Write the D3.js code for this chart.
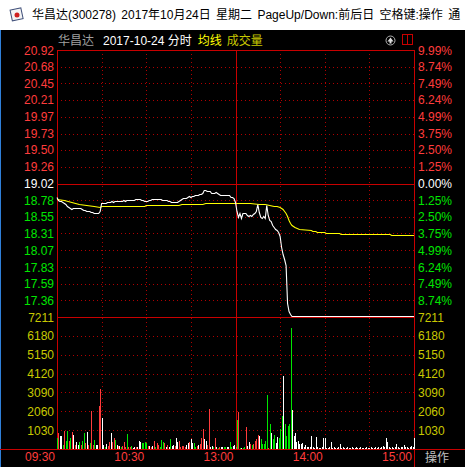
<!DOCTYPE html>
<html>
<head>
<meta charset="utf-8">
<script src="https://cdn.jsdelivr.net/npm/d3@7"></script>
<style>
body { margin: 0; background: #000; overflow: hidden; }
svg { display: block; }
text { font-family: "Liberation Sans", "Noto Sans CJK SC", sans-serif; font-size: 12px; }
</style>
</head>
<body>
<svg id="chart"></svg>
<script>
var preClose = 19.02,
	limitUp = 20.92,
	limitDown = 17.12,
	volMax = 7211;

var priceLabels = [20.92, 20.68, 20.45, 20.21, 19.97, 19.73, 19.50, 19.26, 19.02,
	18.78, 18.55, 18.31, 18.07, 17.83, 17.59, 17.36];
var pctLabels = ["9.99%", "8.74%", "7.49%", "6.24%", "4.99%", "3.75%", "2.50%", "1.25%", "0.00%",
	"1.25%", "2.50%", "3.75%", "4.99%", "6.24%", "7.49%", "8.74%"];
var volLabels = [7211, 6180, 5150, 4120, 3090, 2060, 1030];
var timeLabels = ["09:30", "10:30", "13:00", "14:00", "15:00"],
	timeLabelMin = [0, 60, 120, 180, 240],
	dottedMin = [30, 60, 90, 150, 180, 210];

// minute price 09:30 .. 14:08, then held at limit down to the close
var price = [
	18.82, 18.77, 18.76, 18.75, 18.74, 18.725, 18.71, 18.69, 18.67, 18.65,
	18.645, 18.65, 18.655, 18.655, 18.66, 18.65, 18.655, 18.645, 18.63, 18.63,
	18.62, 18.61, 18.61, 18.60, 18.595, 18.59, 18.585, 18.585, 18.59, 18.61,
	18.725, 18.73, 18.735, 18.735, 18.74, 18.74, 18.745, 18.75, 18.745, 18.75,
	18.755, 18.75, 18.76, 18.755, 18.76, 18.765, 18.76, 18.77, 18.765, 18.77,
	18.775, 18.77, 18.775, 18.785, 18.78, 18.785, 18.78, 18.775, 18.765, 18.755,
	18.75, 18.755, 18.765, 18.775, 18.78, 18.785, 18.78, 18.785, 18.78, 18.785,
	18.78, 18.775, 18.77, 18.765, 18.77, 18.76, 18.75, 18.745, 18.745, 18.74,
	18.745, 18.745, 18.76, 18.775, 18.79, 18.795, 18.80, 18.80, 18.81, 18.825,
	18.82, 18.83, 18.825, 18.84, 18.845, 18.84, 18.85, 18.86, 18.87, 18.915,
	18.91, 18.90, 18.905, 18.895, 18.87, 18.875, 18.865, 18.885, 18.875, 18.85,
	18.845, 18.845, 18.84, 18.845, 18.84, 18.845, 18.835, 18.82, 18.81, 18.80,
	18.74, 18.62, 18.53, 18.58, 18.52, 18.59, 18.58, 18.59, 18.56, 18.55,
	18.555, 18.55, 18.57, 18.59, 18.62, 18.72, 18.60, 18.53, 18.52, 18.54,
	18.52, 18.70, 18.56, 18.49, 18.47, 18.42, 18.38, 18.36, 18.34, 18.32,
	18.26, 18.10, 18.00, 17.93, 17.85, 17.30, 17.19, 17.15, 17.12
];
var closeMinute = 240, closePrice = 17.12;

var avgMin = [0, 5, 10, 15, 20, 25, 29, 30, 50, 52, 59, 60, 82, 84, 98, 100, 120, 130, 136, 140,
	143, 146, 148, 150, 152, 153, 154, 155, 156, 157, 158, 160, 163, 171, 172, 174, 175, 180, 181, 190,
	191, 217, 218, 224, 225, 240];
var avgVal = [18.79, 18.765, 18.74, 18.72, 18.70, 18.68, 18.665, 18.68, 18.685, 18.69, 18.69, 18.70, 18.70, 18.715, 18.72, 18.73, 18.735, 18.73, 18.72, 18.71,
	18.70, 18.69, 18.68, 18.665, 18.64, 18.61, 18.58, 18.55, 18.49, 18.44, 18.41, 18.38, 18.36, 18.35, 18.336, 18.336, 18.322, 18.322, 18.308, 18.308,
	18.294, 18.294, 18.28, 18.28, 18.266, 18.266];

var volume = [
	580, 855, 710, 710, 218, 1000, 437, 983, 437, 580,
	928, 764, 218, 364, 218, 400, 218, 437, 855, 310,
	928, 218, 310, 2075, 218, 491, 218, 218, 2348, 3276,
	1674, 218, 127, 270, 164, 400, 873, 382, 582, 491,
	218, 182, 164, 91, 164, 400, 127, 819, 127, 91,
	164, 73, 127, 127, 91, 437, 364, 346, 310, 382,
	310, 164, 164, 127, 164, 437, 127, 310, 218, 91,
	491, 382, 310, 91, 218, 127, 528, 164, 218, 164,
	582, 400, 437, 127, 164, 164, 127, 218, 310, 400,
	546, 346, 346, 91, 164, 218, 255, 582, 1074, 546,
	437, 218, 2184, 91, 164, 91, 582, 91, 55, 91,
	91, 127, 91, 91, 91, 91, 382, 91, 164, 218,
	127, 1583, 2020, 55, 55, 55, 127, 1201, 164, 382,
	273, 200, 273, 455, 528, 764, 710, 528, 255, 255,
	455, 2948, 73, 1365, 874, 528, 764, 346, 673, 600,
	1074, 1802, 3986, 1365, 710, 1256, 1365, 6607, 2130, 710,
	855, 400, 420, 273, 273, 310, 127, 200, 127, 127,
	127, 710, 127, 55, 637, 127, 55, 55, 127, 600,
	600, 55, 55, 91, 382, 55, 91, 55, 55, 91,
	273, 55, 91, 55, 55, 127, 55, 55, 91, 55,
	55, 91, 55, 55, 91, 55, 55, 55, 91, 55,
	55, 91, 55, 55, 127, 55, 127, 55, 127, 164,
	127, 617, 382, 91, 55, 91, 55, 127, 273, 91,
	55, 127, 91, 200, 91, 127, 55, 91, 164, 127, 617
];
// r = up tick, g = down tick, w = unchanged
var volDir = "grwwgrggrg" + "rwrwwgrggr" + "wrgrrgwwrr" + "wwgwrrwrrg" + "wrwgrrrgrr" +
	"gwwrwwwggg" + "grwrwrgrrg" + "ggrwrwgwwr" + "wwrrrrrwwr" + "wwggrwrrrw" +
	"wrrwwgrwgr" + "wwggwwggww" + "rgrgwggrww" + "rgrrrrwggg" + "ggrgwggwwg" +
	"ggwgggggww" + "wwwwwwwwww" + "wwwwwwwwww" + "wwwwwwwwww" + "wwwwwwwwww" +
	"wwwwwwwwww" + "wwwwwwwwww" + "wwwwwwwwww" + "wwwwwwwwww" + "w";

(function() {
	var RED = "#ff3c3c", GREEN = "#00e600", WHITE = "#ffffff", YEL = "#ffff00", OLIVE = "#c8c800",
		GRID = "#b00000", LINE = "#c80000";
	var dirColor = {r: RED, g: GREEN, w: WHITE};

	var W = 465, H = 467,
		pL = 57, pR = 414, pTop = 50, pMid = 317, pBot = 449;

	var svg = d3.select("#chart").attr("width", W).attr("height", H);

	var x = d3.scaleLinear().domain([0, 240]).range([pL, pR]),
		y = d3.scaleLinear().domain([limitDown, limitUp]).range([pMid, pTop]),
		v = d3.scaleLinear().domain([0, volMax]).range([pBot, pMid]);

	function px(n) { return Math.round(n) + 0.5; }

	svg.append("rect").attr("width", W).attr("height", H).attr("fill", "#000");

	// title bar
	svg.append("rect").attr("width", W).attr("height", 30).attr("fill", "#fff");
	var icon = svg.append("g").attr("transform", "translate(11,9)");
	icon.append("rect").attr("width", 11).attr("height", 11).attr("fill", "#f4f4f4")
		.attr("stroke", "#40507a").attr("transform", "rotate(-12 5 5)");
	icon.append("circle").attr("cx", 6).attr("cy", 6).attr("r", 2.5).attr("fill", "#d02020");
	svg.append("text").attr("x", 32).attr("y", 19).attr("fill", "#000").attr("word-spacing", 2)
		.text("华昌达(300278) 2017年10月24日 星期二 PageUp/Down:前后日 空格键:操作 通");

	svg.append("line").attr("x1", 0.5).attr("x2", 0.5).attr("y1", 30).attr("y2", H)
		.attr("stroke", "#2f7fd8");

	// header
	var head = svg.append("text").attr("x", 58).attr("y", 45);
	head.append("tspan").attr("fill", "#a0a0a0").text("华昌达");
	head.append("tspan").attr("fill", WHITE).attr("dx", 9).text("2017-10-24 分时");
	head.append("tspan").attr("fill", YEL).attr("dx", 6).text("均线");
	head.append("tspan").attr("fill", OLIVE).attr("dx", 5).text("成交量");

	svg.append("circle").attr("cx", 390.5).attr("cy", 40.5).attr("r", 4.5)
		.attr("fill", "none").attr("stroke", "#b0b0b0");
	svg.append("path").attr("d", "M387.5,41.5 L390.5,37.5 L393.5,41.5 Z M389.5,41.5 V43.5 H391.5 V41.5")
		.attr("fill", "#e0e0e0");
	svg.append("rect").attr("x", 402.5).attr("y", 34.5).attr("width", 10).attr("height", 10)
		.attr("fill", "none").attr("stroke", LINE);
	svg.append("line").attr("x1", 407.5).attr("x2", 407.5).attr("y1", 34.5).attr("y2", 44.5)
		.attr("stroke", LINE);

	// grid
	var grid = svg.append("g");
	function hline(yy, x1, x2, dashed) {
		var l = grid.append("line").attr("x1", x1).attr("x2", x2).attr("y1", px(yy)).attr("y2", px(yy))
			.attr("stroke", dashed ? GRID : LINE);
		if (dashed) l.attr("stroke-dasharray", "1,3");
	}
	function vline(xx, y1, y2, dashed) {
		var l = grid.append("line").attr("x1", px(xx)).attr("x2", px(xx)).attr("y1", y1).attr("y2", y2)
			.attr("stroke", dashed ? GRID : LINE);
		if (dashed) l.attr("stroke-dasharray", "1,3");
	}
	priceLabels.forEach(function(p, i) {
		if (i == 0 || p == preClose) return;
		hline(y(p), pL, pR, true);
	});
	volLabels.slice(1).forEach(function(q) { hline(v(q), pL, pR, true); });
	dottedMin.forEach(function(m) { vline(x(m), pTop, pBot, true); });
	[limitUp, preClose, limitDown].forEach(function(p) { hline(y(p), pL, pR, false); });
	hline(pBot, 0, W, false);
	vline(x(0), pTop, pBot, false);
	vline(x(120), pTop, pBot, false);
	vline(x(240), pTop, H, false);

	// axis labels
	function priceColor(p) { return p > preClose ? RED : (p < preClose ? GREEN : WHITE); }
	svg.append("g").selectAll("text").data(priceLabels).enter().append("text")
		.attr("x", 54).attr("y", function(d) { return y(d) + 4.5; })
		.attr("text-anchor", "end").attr("fill", priceColor)
		.text(function(d) { return d.toFixed(2); });
	svg.append("g").selectAll("text").data(pctLabels).enter().append("text")
		.attr("x", 418).attr("y", function(d, i) { return y(priceLabels[i]) + 4.5; })
		.attr("fill", function(d, i) { return priceColor(priceLabels[i]); })
		.text(function(d) { return d; });
	[54, 418].forEach(function(tx) {
		svg.append("g").selectAll("text").data(volLabels).enter().append("text")
			.attr("x", tx).attr("y", function(d) { return v(d) + 4.5; })
			.attr("text-anchor", tx < 100 ? "end" : "start").attr("fill", OLIVE)
			.text(function(d) { return d; });
	});
	svg.append("g").selectAll("text").data(timeLabels).enter().append("text")
		.attr("x", function(d, i) { return x(timeLabelMin[i]) - 2; }).attr("y", 461)
		.attr("text-anchor", "end").attr("fill", RED)
		.text(function(d) { return d; });
	svg.append("text").attr("x", 425).attr("y", 462).attr("fill", "#c0c0c0").text("操作");

	// volume bars
	svg.append("g").selectAll("rect").data(volume).enter().append("rect")
		.attr("x", function(d, i) { return Math.round(x(i)); })
		.attr("width", 1)
		.attr("y", function(d) { return Math.round(v(d)); })
		.attr("height", function(d) { return pBot - Math.round(v(d)); })
		.attr("fill", function(d, i) { return dirColor[volDir[i]]; });

	// price and average lines
	var pts = price.map(function(p, i) { return [i, p]; });
	pts.push([closeMinute, closePrice]);
	var line = d3.line()
		.x(function(d) { return x(d[0]); })
		.y(function(d) { return Math.round(y(d[1])) - 0.5; });
	svg.append("path").datum(avgMin.map(function(m, i) { return [m, avgVal[i]]; }))
		.attr("d", line).attr("fill", "none").attr("stroke", YEL).attr("stroke-width", 1.1);
	svg.append("path").datum(pts)
		.attr("d", line).attr("fill", "none").attr("stroke", WHITE).attr("stroke-width", 1.1);
})();
</script>
</body>
</html>
